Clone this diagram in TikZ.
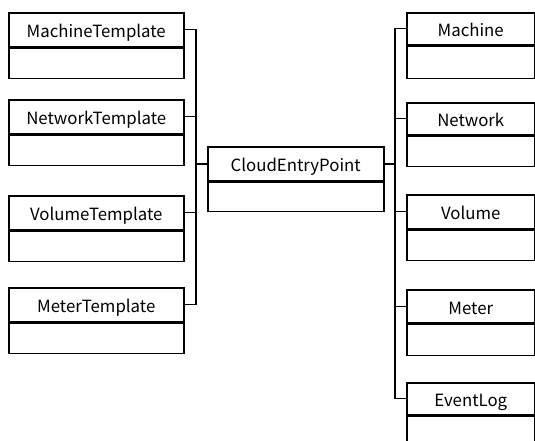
\documentclass[tikz,border=0pt]{standalone}
\usepackage{fontspec}
\setmainfont{Noto Sans CJK JP}
\begin{document}
\begin{tikzpicture}[x=1pt,y=-1pt,
  hdr/.style={draw, line width=1.5pt, anchor=north west, inner sep=0pt,
    minimum width=#1, minimum height=34pt, font=\fontsize{16.8}{18}\selectfont,
    text height=16pt, text depth=0pt},
  bdy/.style={draw, line width=1.5pt, anchor=north west, inner sep=0pt,
    minimum width=#1, minimum height=30pt},
  conn/.style={line width=1.3pt},
  thickconn/.style={line width=2.2pt}]
\useasboundingbox (0,0) rectangle (535,440);
\clip (0,0) rectangle (535,440);
% left column
\node[hdr=175pt] (mt) at (8,12) {MachineTemplate};
\node[bdy=175pt] (mtb) at (mt.south west) {};
\node[hdr=175pt] (nt) at (8,99) {NetworkTemplate};
\node[bdy=175pt] (ntb) at (nt.south west) {};
\node[hdr=175pt] (vt) at (8,195) {VolumeTemplate};
\node[bdy=175pt] (vtb) at (vt.south west) {};
\node[hdr=175pt] (mtt) at (8,287) {MeterTemplate};
\node[bdy=175pt] (mttb) at (mtt.south west) {};
% center
\node[hdr=176pt] (cep) at (207,146) {CloudEntryPoint};
\node[bdy=176pt,minimum height=29pt] (cepb) at (cep.south west) {};
% right column
\node[hdr=128pt,minimum height=32pt] (m) at (406,12) {Machine};
\node[bdy=128pt,minimum height=32pt] (mb) at (m.south west) {};
\node[hdr=128pt,minimum height=32pt] (n) at (406,102) {Network};
\node[bdy=128pt,minimum height=30pt] (nb) at (n.south west) {};
\node[hdr=128pt] (v) at (406,194) {Volume};
\node[bdy=128pt] (vb) at (v.south west) {};
\node[hdr=128pt,minimum height=33pt] (me) at (406,289) {Meter};
\node[bdy=128pt,minimum height=31pt] (meb) at (me.south west) {};
\node[hdr=128pt,minimum height=32pt] (el) at (406,382) {EventLog};
\node[bdy=128pt,minimum height=32pt] (elb) at (el.south west) {};
% buses
\coordinate (lbus) at (196,0);
\coordinate (rbus) at (395,0);
\draw[conn] (mt.east) -- (mt.east -| lbus) -- (mtt.east -| lbus) -- (mtt.east);
\draw[conn] (nt.east) -- (nt.east -| lbus);
\draw[conn] (vt.east) -- (vt.east -| lbus);
\draw[thickconn] (cep.west) -- (cep.west -| lbus);
\draw[conn] (m.west) -- (m.west -| rbus) -- (el.west -| rbus) -- (el.west);
\draw[conn] (n.west) -- (n.west -| rbus);
\draw[conn] (v.west) -- (v.west -| rbus);
\draw[conn] (me.west) -- (me.west -| rbus);
\draw[thickconn] (cep.east) -- (cep.east -| rbus);
\end{tikzpicture}
\end{document}
